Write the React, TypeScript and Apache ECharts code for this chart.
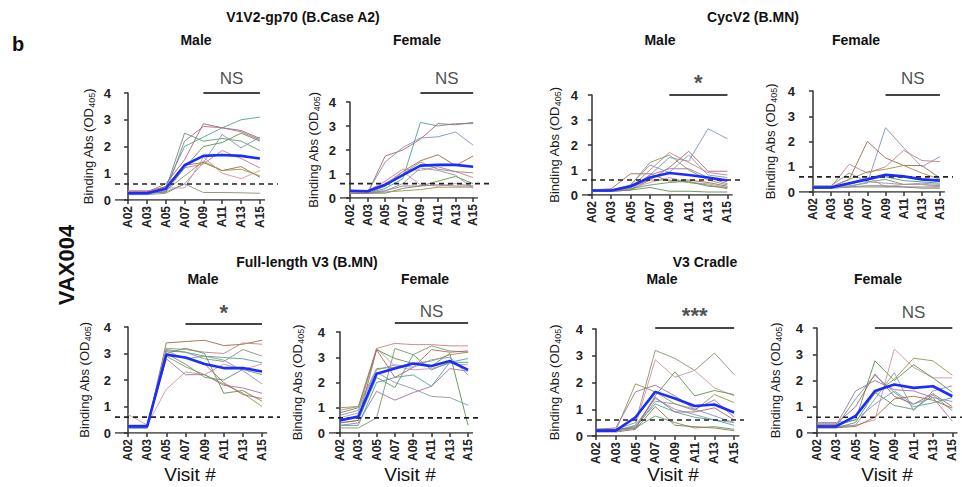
import React, { useEffect, useRef } from 'react';
import * as echarts from 'echarts';

const CATS = ['A02', 'A03', 'A05', 'A07', 'A09', 'A11', 'A13', 'A15'];
const TICK_POS = [0, 1, 2, 3, 4, 5, 6, 7];
const THRESHOLD = 0.6;

// V1V2-gp70 (B.Case A2) — Male
const v1v2MaleMean = [0.25, 0.25, 0.42, 1.3, 1.65, 1.68, 1.65, 1.55];
const v1v2MaleLines = [
  [0.3, 0.3, 0.4, 2.5, 2.2, 2.3, 2.2, 1.85],
  [0.25, 0.3, 0.5, 2.0, 2.35, 2.7, 3.0, 3.1],
  [0.3, 0.3, 0.6, 1.5, 2.85, 2.7, 2.6, 2.3],
  [0.2, 0.25, 0.3, 0.6, 1.4, 2.45, 1.95, 2.35],
  [0.3, 0.3, 0.5, 1.3, 1.4, 1.1, 1.25, 0.85],
  [0.35, 0.35, 0.4, 1.2, 1.35, 1.85, 1.55, 1.2],
  [0.2, 0.2, 0.25, 0.6, 0.28, 0.28, 0.27, 0.25],
  [0.3, 0.3, 0.45, 0.45, 1.6, 1.0, 0.8, 1.1],
  [0.25, 0.25, 0.3, 1.2, 2.0, 2.15, 2.5, 2.2],
  [0.25, 0.3, 0.35, 0.9, 1.45, 1.1, 1.15, 0.9],
  [0.3, 0.3, 0.3, 2.2, 2.75, 2.7, 2.55, 2.25],
];

// V1V2-gp70 (B.Case A2) — Female
const v1v2FemaleMean = [0.3, 0.28, 0.55, 0.95, 1.35, 1.38, 1.38, 1.3];
const v1v2FemaleLines = [
  [0.2, 0.2, 0.4, 0.8, 3.15, 3.0, 3.1, 3.1],
  [0.2, 0.2, 1.75, 2.0, 2.45, 3.1, 3.05, 3.15],
  [0.25, 0.25, 1.5, 2.1, 2.5, 2.55, 2.75, 2.2],
  [0.2, 0.2, 0.5, 1.1, 1.55, 1.8, 1.35, 1.75],
  [0.3, 0.3, 0.7, 1.2, 1.15, 1.3, 1.1, 0.85],
  [0.3, 0.3, 0.5, 1.0, 1.5, 1.2, 1.1, 1.05],
  [0.3, 0.3, 0.6, 1.1, 0.55, 0.5, 0.6, 0.5],
  [0.2, 0.2, 0.2, 0.4, 0.5, 0.7, 0.9, 0.6],
  [0.2, 0.2, 0.25, 0.3, 0.35, 0.45, 0.45, 0.45],
  [0.2, 0.2, 0.3, 0.5, 0.5, 0.55, 0.5, 0.5],
  [0.25, 0.25, 0.3, 0.6, 1.25, 1.15, 0.95, 0.4],
];

// CycV2 (B.MN) — Male
const cycMaleMean = [0.18, 0.18, 0.35, 0.7, 0.88, 0.8, 0.7, 0.58];
const cycMaleLines = [
  [0.15, 0.15, 0.2, 0.6, 1.1, 1.75, 0.95, 0.95],
  [0.15, 0.15, 0.3, 0.8, 1.5, 1.35, 2.65, 2.25],
  [0.2, 0.25, 0.85, 0.85, 0.55, 0.6, 0.5, 0.35],
  [0.2, 0.2, 0.3, 1.0, 1.7, 1.3, 0.9, 0.8],
  [0.15, 0.15, 0.4, 1.3, 1.6, 1.0, 0.6, 0.4],
  [0.2, 0.2, 0.25, 0.5, 0.7, 0.5, 0.45, 0.3],
  [0.15, 0.15, 0.2, 0.3, 0.15, 0.15, 0.12, 0.12],
  [0.2, 0.2, 0.3, 0.6, 0.6, 0.5, 0.4, 0.25],
  [0.15, 0.15, 0.2, 0.8, 1.05, 1.05, 0.7, 0.45],
  [0.2, 0.2, 0.4, 1.2, 0.9, 1.6, 0.8, 0.7],
  [0.2, 0.2, 0.25, 0.4, 0.5, 0.55, 0.35, 0.3],
];

// CycV2 (B.MN) — Female
const cycFemaleMean = [0.18, 0.18, 0.35, 0.5, 0.68, 0.62, 0.5, 0.45];
const cycFemaleLines = [
  [0.2, 0.2, 0.25, 0.35, 2.55, 1.75, 1.0, 1.4],
  [0.2, 0.2, 0.5, 2.0, 1.35, 1.05, 1.05, 0.55],
  [0.2, 0.2, 1.1, 0.75, 1.0, 1.65, 1.25, 1.2],
  [0.25, 0.25, 0.75, 0.4, 0.5, 0.3, 0.3, 0.25],
  [0.2, 0.2, 0.3, 0.6, 0.2, 0.3, 0.3, 0.2],
  [0.15, 0.15, 0.2, 0.2, 0.2, 0.2, 0.15, 0.15],
  [0.2, 0.2, 0.5, 0.8, 0.9, 1.05, 0.75, 0.5],
  [0.2, 0.2, 0.2, 0.25, 0.25, 0.2, 0.2, 0.2],
  [0.15, 0.15, 0.2, 0.4, 0.35, 0.3, 0.35, 0.3],
  [0.2, 0.2, 0.3, 0.5, 0.6, 0.45, 0.4, 0.35],
];

// Full-length V3 (B.MN) — Male
const flMaleMean = [0.25, 0.25, 2.95, 2.85, 2.6, 2.45, 2.45, 2.32];
const flMaleLines = [
  [0.2, 0.2, 3.4, 3.45, 3.5, 3.3, 3.35, 3.5],
  [0.2, 0.2, 3.2, 3.15, 3.05, 3.0, 3.4, 3.35],
  [0.25, 0.3, 3.1, 3.05, 2.8, 2.7, 3.15, 2.9],
  [0.7, 0.3, 1.65, 2.3, 2.2, 2.6, 2.4, 2.6],
  [0.2, 0.2, 3.0, 3.2, 3.0, 1.5, 1.6, 1.2],
  [0.2, 0.2, 2.9, 2.5, 2.2, 1.85, 1.5, 1.0],
  [0.25, 0.25, 2.8, 2.2, 2.2, 1.8, 1.7, 1.5],
  [0.3, 0.3, 3.1, 2.8, 2.9, 2.75, 2.35, 1.85],
  [0.2, 0.2, 3.0, 2.6, 2.1, 2.0, 2.4, 2.2],
  [0.2, 0.2, 3.15, 3.05, 2.9, 2.85, 2.8, 2.65],
  [0.25, 0.25, 3.0, 2.85, 2.6, 1.9, 1.45, 1.3],
];

// Full-length V3 (B.MN) — Female
const flFemaleMean = [0.5, 0.65, 2.35, 2.55, 2.75, 2.65, 2.85, 2.5];
const flFemaleLines = [
  [0.9, 1.05, 3.35, 3.55, 3.5, 3.5, 3.45, 3.45],
  [0.2, 0.2, 0.6, 3.35, 3.1, 3.45, 3.25, 3.2],
  [0.6, 0.8, 3.35, 2.65, 2.5, 2.55, 2.75, 2.7],
  [0.8, 1.0, 3.3, 2.95, 2.75, 2.65, 3.15, 0.3],
  [1.0, 1.05, 2.55, 2.6, 2.75, 2.85, 3.1, 3.2],
  [0.3, 0.4, 1.65, 1.3, 1.6, 1.85, 2.55, 2.45],
  [0.5, 0.6, 2.4, 2.0, 1.75, 1.45, 1.4, 1.1],
  [0.4, 0.5, 2.2, 1.8, 3.1, 2.5, 2.8, 2.8],
  [0.3, 0.3, 2.0, 2.2, 2.3, 1.85, 2.8, 2.95],
  [0.4, 0.5, 3.3, 2.2, 2.6, 3.3, 3.2, 3.25],
  [0.7, 0.9, 2.5, 2.7, 2.6, 2.9, 3.0, 2.3],
];

// V3 Cradle — Male
const cradleMaleMean = [0.2, 0.2, 0.7, 1.65, 1.4, 1.12, 1.18, 0.88];
const cradleMaleLines = [
  [0.25, 0.25, 0.5, 3.2, 2.9, 2.45, 3.1, 2.3],
  [0.2, 0.2, 0.4, 2.85, 2.2, 2.45, 1.8, 1.5],
  [0.2, 0.2, 0.3, 1.5, 2.4, 1.5, 1.7, 1.55],
  [0.2, 0.2, 1.95, 1.65, 1.2, 0.95, 1.55, 1.25],
  [0.25, 0.3, 1.65, 1.9, 1.5, 1.0, 1.35, 0.7],
  [0.2, 0.2, 0.4, 1.4, 1.0, 0.8, 0.6, 0.5],
  [0.2, 0.2, 0.3, 0.75, 0.5, 0.3, 0.35, 0.25],
  [0.2, 0.2, 0.35, 1.2, 0.9, 0.7, 0.6, 0.4],
  [0.25, 0.25, 0.3, 1.45, 0.9, 0.9, 1.05, 0.6],
  [0.2, 0.2, 0.3, 1.3, 1.2, 1.0, 0.75, 0.5],
  [0.15, 0.15, 0.25, 1.1, 0.4, 0.35, 0.3, 0.2],
];

// V3 Cradle — Female
const cradleFemaleMean = [0.25, 0.25, 0.65, 1.6, 1.85, 1.72, 1.78, 1.4];
const cradleFemaleLines = [
  [0.25, 0.25, 0.3, 0.5, 3.2, 2.5, 2.1, 2.1],
  [0.3, 0.3, 0.5, 2.75, 2.0, 2.6, 2.1, 1.55],
  [0.3, 0.3, 0.6, 1.5, 2.05, 2.85, 2.75, 2.2],
  [0.3, 0.3, 1.6, 2.0, 1.65, 1.6, 1.35, 0.45],
  [0.2, 0.2, 0.3, 1.3, 2.3, 0.85, 1.6, 1.8],
  [0.2, 0.2, 0.4, 1.55, 1.05, 0.9, 1.45, 0.85],
  [0.25, 0.25, 1.3, 2.2, 1.55, 1.0, 1.15, 1.35],
  [0.35, 0.35, 1.0, 2.25, 1.4, 1.1, 1.5, 1.0],
  [0.4, 0.4, 0.5, 1.1, 1.6, 1.1, 1.35, 1.2],
  [0.2, 0.2, 0.25, 0.6, 1.3, 1.4, 1.25, 0.95],
];

// Significance annotations: label, first visit index of the bar
const sigLabels = ['NS', 'NS', '*', 'NS', '*', 'NS', '***', 'NS'];
const sigStart = [4, 4, 4, 4, 3, 3, 3, 3];

const PANEL_DATA = [
  { mean: v1v2MaleMean, lines: v1v2MaleLines },
  { mean: v1v2FemaleMean, lines: v1v2FemaleLines },
  { mean: cycMaleMean, lines: cycMaleLines },
  { mean: cycFemaleMean, lines: cycFemaleLines },
  { mean: flMaleMean, lines: flMaleLines },
  { mean: flFemaleMean, lines: flFemaleLines },
  { mean: cradleMaleMean, lines: cradleMaleLines },
  { mean: cradleFemaleMean, lines: cradleFemaleLines },
];

// Layout (pixels) and axis windows
const LAYOUT = [
  { left: 115, top: 93, width: 163, height: 107, xmin: -0.69, xmax: 7.96, barY: 4.0, textY: 4.56, nameGap: 19 },
  { left: 340, top: 102, width: 149, height: 96, xmin: -0.57, xmax: 7.9, barY: 4.37, textY: 5.0, nameGap: 19 },
  { left: 582, top: 95, width: 158, height: 100, xmin: -0.51, xmax: 7.65, barY: 4.0, textY: 4.5, nameGap: 20 },
  { left: 799, top: 91, width: 154, height: 101, xmin: -0.77, xmax: 7.72, barY: 3.84, textY: 4.48, nameGap: 21 },
  { left: 115, top: 327, width: 165, height: 106, xmin: -0.68, xmax: 7.94, barY: 4.11, textY: 4.55, nameGap: 23 },
  { left: 329, top: 332, width: 151, height: 101, xmin: -0.6, xmax: 7.65, barY: 4.36, textY: 4.8, nameGap: 24 },
  { left: 587, top: 329, width: 157, height: 107, xmin: -0.46, xmax: 7.5, barY: 4.04, textY: 4.5, nameGap: 25 },
  { left: 807, top: 328, width: 155, height: 105, xmin: -0.51, xmax: 7.5, barY: 4.0, textY: 4.6, nameGap: 24 },
];
const AXIS_END = 7.27;

const PALETTE = [
  '#5f9a6e', '#4fa39a', '#b0646c', '#7f96bc', '#9a6e48', '#c77f86',
  '#86936f', '#cc96a2', '#5e9250', '#96954c', '#a2749a', '#8e98a6',
];
const FONT = '"Liberation Sans", Arial, Helvetica, sans-serif';
const AXIS_COLOR = '#333';

function buildOption() {
  const grid: any[] = [];
  const xAxis: any[] = [];
  const yAxis: any[] = [];
  const series: any[] = [];

  PANEL_DATA.forEach((p, i) => {
    const L = LAYOUT[i];
    grid.push({ left: L.left, top: L.top, width: L.width, height: L.height, containLabel: false });
    xAxis.push({
      type: 'value',
      gridIndex: i,
      min: L.xmin,
      max: L.xmax,
      axisLine: { show: false },
      axisTick: {
        show: true,
        customValues: TICK_POS,
        length: 4,
        lineStyle: { color: AXIS_COLOR, width: 1.5 },
      },
      axisLabel: {
        customValues: TICK_POS,
        rotate: 90,
        margin: 6,
        formatter: (v: number) => CATS[Math.round(v)] ?? '',
        fontFamily: FONT,
        fontSize: 12,
        fontWeight: 'bold',
        color: '#222',
      },
      splitLine: { show: false },
    });
    yAxis.push({
      type: 'value',
      gridIndex: i,
      min: 0,
      max: 4,
      interval: 1,
      axisLine: { show: true, lineStyle: { color: AXIS_COLOR, width: 1.5 } },
      axisTick: { show: true, length: 4, lineStyle: { color: AXIS_COLOR, width: 1.5 } },
      axisLabel: { fontFamily: FONT, fontSize: 13, fontWeight: 'bold', color: '#222', margin: 4 },
      splitLine: { show: false },
      name: '{a|Binding Abs (OD}{s|405}{a|)}',
      nameLocation: 'middle',
      nameGap: L.nameGap,
      nameRotate: 90,
      nameTextStyle: {
        fontFamily: FONT,
        color: '#222',
        rich: {
          a: { fontFamily: FONT, fontSize: 13, color: '#1a1a1a', lineHeight: 15 },
          s: { fontFamily: FONT, fontSize: 9, color: '#1a1a1a', lineHeight: 15, verticalAlign: 'bottom', padding: [5, 0, 0, 0] },
        },
      },
    });

    // x axis baseline
    series.push({
      type: 'line',
      xAxisIndex: i,
      yAxisIndex: i,
      data: [[L.xmin, 0], [AXIS_END, 0]],
      symbol: 'none',
      silent: true,
      lineStyle: { color: AXIS_COLOR, width: 1.5 },
      z: 6,
    });

    p.lines.forEach((vals, j) => {
      series.push({
        type: 'line',
        xAxisIndex: i,
        yAxisIndex: i,
        data: vals.map((v, k) => [k, v]),
        symbol: 'none',
        silent: true,
        lineStyle: { color: PALETTE[(j + i) % PALETTE.length], width: 1, opacity: 0.9 },
        z: 2,
      });
    });

    // threshold
    series.push({
      type: 'line',
      xAxisIndex: i,
      yAxisIndex: i,
      data: [[L.xmin, THRESHOLD], [L.xmax, THRESHOLD]],
      symbol: 'none',
      silent: true,
      lineStyle: { color: '#222', width: 1.6, type: [5, 4] },
      z: 4,
    });

    // mean
    series.push({
      type: 'line',
      xAxisIndex: i,
      yAxisIndex: i,
      data: p.mean.map((v, k) => [k, v]),
      symbol: 'none',
      silent: true,
      lineStyle: { color: '#1a2cff', width: 2.6 },
      z: 5,
    });

    // significance bar
    series.push({
      type: 'line',
      xAxisIndex: i,
      yAxisIndex: i,
      data: [[sigStart[i], L.barY], [7, L.barY]],
      symbol: 'none',
      silent: true,
      clip: false,
      lineStyle: { color: '#444', width: 2 },
      z: 5,
    });
    series.push({
      type: 'scatter',
      xAxisIndex: i,
      yAxisIndex: i,
      data: [[(sigStart[i] + 7) / 2, L.textY]],
      symbolSize: 1,
      silent: true,
      clip: false,
      itemStyle: { color: 'rgba(0,0,0,0)' },
      label: {
        show: true,
        position: 'inside',
        formatter: sigLabels[i],
        fontFamily: FONT,
        fontSize: sigLabels[i] === 'NS' ? 17 : 22,
        fontWeight: sigLabels[i] === 'NS' ? 'normal' : 'bold',
        color: '#222',
      },
      z: 6,
    });
  });

  const txt = (x: number, y: number, text: string, size: number, weight = 'bold', rotation = 0) => ({
    type: 'text',
    x,
    y,
    rotation,
    silent: true,
    style: {
      text,
      fontFamily: FONT,
      fontSize: size,
      fontWeight: weight,
      fill: '#111',
      textAlign: 'center',
      textVerticalAlign: 'middle',
    },
  });

  const graphic = [
    txt(18, 44, 'b', 20),
    txt(66, 265, 'VAX004', 22, 'bold', Math.PI / 2),
    txt(303, 17, 'V1V2-gp70 (B.Case A2)', 14),
    txt(196, 40, 'Male', 14),
    txt(417, 40, 'Female', 14),
    txt(753, 17, 'CycV2 (B.MN)', 14),
    txt(660, 40, 'Male', 14),
    txt(856, 40, 'Female', 14),
    txt(307, 262, 'Full-length V3 (B.MN)', 14),
    txt(203, 279, 'Male', 14),
    txt(425, 279, 'Female', 14),
    txt(705, 262, 'V3 Cradle', 14),
    txt(662, 279, 'Male', 14),
    txt(878, 279, 'Female', 14),
    txt(190, 474, 'Visit #', 19, 'normal'),
    txt(410, 474, 'Visit #', 19, 'normal'),
    txt(673, 474, 'Visit #', 19, 'normal'),
    txt(887, 474, 'Visit #', 19, 'normal'),
  ];

  return {
    animation: false,
    backgroundColor: '#ffffff',
    grid,
    xAxis,
    yAxis,
    series,
    graphic,
  };
}

export default function App() {
  const ref = useRef<HTMLDivElement>(null);
  useEffect(() => {
    if (!ref.current) return;
    const chart = echarts.init(ref.current, undefined, { renderer: 'svg' });
    chart.setOption(buildOption() as any);
    return () => chart.dispose();
  }, []);
  return (
    <div
      ref={ref}
      style={{ position: 'fixed', left: 0, top: 0, width: 962, height: 487, background: '#fff' }}
    />
  );
}
